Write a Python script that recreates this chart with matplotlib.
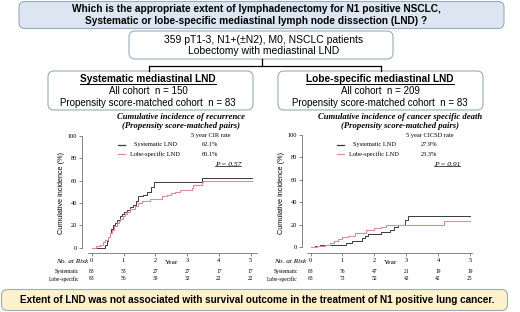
import matplotlib
matplotlib.use("Agg")
import matplotlib.pyplot as plt
from matplotlib.patches import FancyBboxPatch
from matplotlib import transforms

plt.rcParams['font.family'] = ['Liberation Sans', 'DejaVu Sans']

SANS = ['Liberation Sans', 'DejaVu Sans']
SERIF = ['Liberation Serif', 'DejaVu Serif']

# ---- data ----
years = [0, 1, 2, 3, 4, 5]
yticks = [0, 20, 40, 60, 80, 100]

# cumulative incidence of recurrence
rec_sys_t = [0, 0.42, 0.47, 0.52, 0.57, 0.62, 0.67, 0.73, 0.80, 0.88, 0.95, 1.02, 1.10, 1.20,
             1.31, 1.40, 1.47, 1.62, 1.73, 1.87, 1.97, 3.46, 5.03]
rec_sys_v = [0, 2.4, 6, 10, 13, 17, 20, 22, 25, 28, 30, 32, 34, 36,
             38, 42, 46, 47, 50, 54, 58.5, 62.1, 62.1]
rec_lobe_t = [0, 0.15, 0.25, 0.35, 0.42, 0.50, 0.58, 0.63, 0.70, 0.78, 0.85, 0.90, 0.97, 1.05,
              1.10, 1.20, 1.36, 1.47, 1.57, 1.83, 2.20, 2.36, 2.50, 2.62, 2.78, 3.14, 3.20,
              3.46, 3.50, 5.03]
rec_lobe_v = [0, 1.2, 2.4, 4.8, 7, 10, 13, 16, 19, 22, 24, 26, 28, 30,
              32, 35, 37, 40, 42, 44, 46, 47, 49, 50, 52, 53, 56,
              59, 60.1, 60.1]

# cumulative incidence of cancer specific death
csd_sys_t = [0, 0.15, 0.30, 1.10, 1.30, 1.60, 1.70, 1.80, 2.20, 2.50, 2.62, 2.73, 2.95, 3.05, 5.0]
csd_sys_v = [0, 1.2, 2.4, 3.6, 6, 8.5, 10, 12, 13.3, 15.6, 18, 20, 24, 27.9, 27.9]
csd_lobe_t = [0, 0.20, 0.45, 0.60, 0.75, 0.86, 1.00, 1.17, 1.38, 1.75, 2.00, 2.20, 2.37, 4.20, 5.0]
csd_lobe_v = [0, 1.2, 2.4, 3.6, 6, 7.5, 9, 10.5, 13, 15, 17, 18.5, 20, 23.3, 23.3]

rec_risk_sys = [83, 53, 27, 27, 17, 17]
rec_risk_lobe = [83, 56, 39, 32, 22, 22]
csd_risk_sys = [83, 76, 47, 21, 19, 19]
csd_risk_lobe = [83, 73, 52, 42, 42, 25]

group_names = ['Systematic LND', 'Lobe-specific LND']
risk_names = ['Systematic', 'Lobe-specific']
rec_rates = ['62.1%', '60.1%']
csd_rates = ['27.9%', '23.3%']

BLACK = '#3a3a3a'
RED = '#e58a94'
EDGE = '#9aabbb'

W, H = 520, 312
fig = plt.figure(figsize=(W / 100, H / 100), dpi=100)

# pixel-coordinate canvas for the boxes and the text
base = fig.add_axes([0, 0, 1, 1])
base.set_xlim(0, W)
base.set_ylim(H, 0)
base.axis('off')


def rbox(x, y, w, h, fc, r=6):
    base.add_patch(FancyBboxPatch((x, y), w, h, boxstyle=f"round,pad=0,rounding_size={r}",
                                  fc=fc, ec=EDGE, lw=0.8, zorder=1))


def underline(t, dy=0.3, lw=0.7):
    fig.canvas.draw()
    bb = t.get_window_extent().transformed(base.transData.inverted())
    base.plot([bb.x0, bb.x1], [max(bb.y0, bb.y1) - dy] * 2, color='k', lw=lw)


# title box
rbox(19, 1.5, 485, 27, '#dce6f2')
base.text(256, 9, 'Which is the appropriate extent of lymphadenectomy for N1 positive NSCLC,',
          ha='center', va='center', fontsize=7.3, fontweight='bold', family=SANS)
base.text(256, 20.5, 'Systematic or lobe-specific mediastinal lymph node dissection (LND) ?',
          ha='center', va='center', fontsize=7.3, fontweight='bold', family=SANS)

# patients box
rbox(129, 31, 264, 28, 'white')
base.text(264, 40, '359 pT1-3, N1+(\u00b1N2), M0, NSCLC patients',
          ha='center', va='center', fontsize=7.5, family=SANS)
base.text(264, 51, 'Lobectomy with mediastinal LND',
          ha='center', va='center', fontsize=7.5, family=SANS)

# connector
base.plot([262, 262], [59, 66], color='k', lw=0.9)
base.plot([149, 381], [66, 66], color='k', lw=0.9)
base.plot([149, 149], [66, 71], color='k', lw=0.9)
base.plot([381, 381], [66, 71], color='k', lw=0.9)

# group boxes
for cx, x0, name, n_all in [(148, 48, 'Systematic mediastinal LND', 150),
                            (380, 278, 'Lobe-specific mediastinal LND', 209)]:
    rbox(x0, 71, 205, 39, 'white')
    t = base.text(cx, 79.5, name, ha='center', va='center', fontsize=7.3,
                  fontweight='bold', family=SANS)
    underline(t)
    base.text(cx, 91.5, f'All cohort  n = {n_all}', ha='center', va='center',
              fontsize=7.0, family=SANS)
    base.text(cx, 103, 'Propensity score-matched cohort  n = 83', ha='center', va='center',
              fontsize=7.0, family=SANS)

# bottom box
rbox(1.5, 289.5, 506, 21, '#fdf1cb')
base.text(257, 300, 'Extent of LND was not associated with survival outcome in the treatment of N1 positive lung cancer.',
          ha='center', va='center', fontsize=7.2, fontweight='bold', family=SANS)


def km_panel(px_x0, px_per_yr, px_y0, px_per_pct, x_left, x_right, sub1,
             s_t, s_v, l_t, l_v, rate_title, rates, pval, risk_s, risk_l):
    bottom_px, top_pct = 252.7, 102
    left_px = px_x0 + x_left * px_per_yr
    right_px = px_x0 + x_right * px_per_yr
    top_px = px_y0 - top_pct * px_per_pct
    ax = fig.add_axes([left_px / W, 1 - bottom_px / H,
                       (right_px - left_px) / W, (bottom_px - top_px) / H])
    ymin = -(bottom_px - px_y0) / px_per_pct
    ax.set_xlim(x_left, x_right)
    ax.set_ylim(ymin, top_pct)
    ax.patch.set_alpha(0)
    for s in ['top', 'right']:
        ax.spines[s].set_visible(False)
    for s in ['left', 'bottom']:
        ax.spines[s].set_linewidth(0.5)
        ax.spines[s].set_color('#555555')
    ax.spines['left'].set_bounds(0, 100)
    ax.spines['bottom'].set_bounds(-0.12, x_right)
    ax.set_xticks(years)
    ax.set_yticks(yticks)
    ax.tick_params(length=2, width=0.5, pad=1.5, labelsize=4.6, colors='#555555',
                   labelcolor='k')
    for lab in ax.get_xticklabels() + ax.get_yticklabels():
        lab.set_family(SERIF)
    ax.set_ylabel('Cumulative incidence (%)', fontsize=5.2, family=SANS, labelpad=2)

    ax.step(s_t, s_v, where='post', color=BLACK, lw=0.7)
    ax.step(l_t, l_v, where='post', color=RED, lw=0.8)

    # legend
    tr = transforms.blended_transform_factory(ax.transData, base.transData)
    ax.text(3.75, 136, rate_title, transform=tr, ha='center', va='center',
            fontsize=4.6, family=SERIF)
    for k, (nm, rt, col) in enumerate(zip(group_names, rates, [BLACK, RED])):
        yy = 144.5 + 9.5 * k
        ax.plot([0.82, 1.05], [yy, yy], transform=tr, color=col, lw=0.9)
        ax.text(2.0, yy, nm, transform=tr, ha='center', va='center', fontsize=4.6,
                family=SERIF)
        ax.text(3.72, yy, rt, transform=tr, ha='center', va='center', fontsize=4.6,
                family=SERIF)
    pt = ax.text(4.28, 164, pval, transform=tr, ha='center', va='center', fontsize=5.4,
                 family=SERIF, style='italic')
    underline(pt, 0.5, 0.5)

    # subtitle
    mid = px_x0 + 2.82 * px_per_yr
    base.text(mid, 117, sub1, ha='center', va='center', fontsize=6.2,
              family=SERIF, fontweight='bold', style='italic')
    base.text(mid, 125.5, '(Propensity score-matched pairs)', ha='center', va='center',
              fontsize=6.2, family=SERIF, fontweight='bold', style='italic')

    # x label and risk table
    ax.text(2.5, 263, 'Year', transform=tr, ha='center', va='center', fontsize=5.2,
            family=SERIF)
    ax.text(-0.12, 261.5, 'No. at Risk', transform=tr, ha='right', va='center',
            fontsize=5.2, family=SERIF, style='italic')
    for yy, nm, vals in [(271.5, risk_names[0], risk_s), (279, risk_names[1], risk_l)]:
        ax.text(-0.4, yy, nm, transform=tr, ha='right', va='center', fontsize=4.0,
                family=SERIF)
        for yr, v in zip(years, vals):
            ax.text(yr, yy, str(v), transform=tr, ha='center', va='center',
                    fontsize=4.0, family=SERIF)
    return ax


km_panel(91.7, 31.8, 247.7, 1.117, -0.31, 5.2, 'Cumulative incidence of recurrence',
         rec_sys_t, rec_sys_v, rec_lobe_t, rec_lobe_v, '5 year CIR rate', rec_rates,
         'P = 0.57', rec_risk_sys, rec_risk_lobe)
km_panel(310.5, 31.9, 247.3, 1.123, -0.27, 5.05, 'Cumulative incidence of cancer specific death',
         csd_sys_t, csd_sys_v, csd_lobe_t, csd_lobe_v, '5 year CICSD rate', csd_rates,
         'P = 0.91', csd_risk_sys, csd_risk_lobe)

fig.savefig('out.png', dpi=100)
